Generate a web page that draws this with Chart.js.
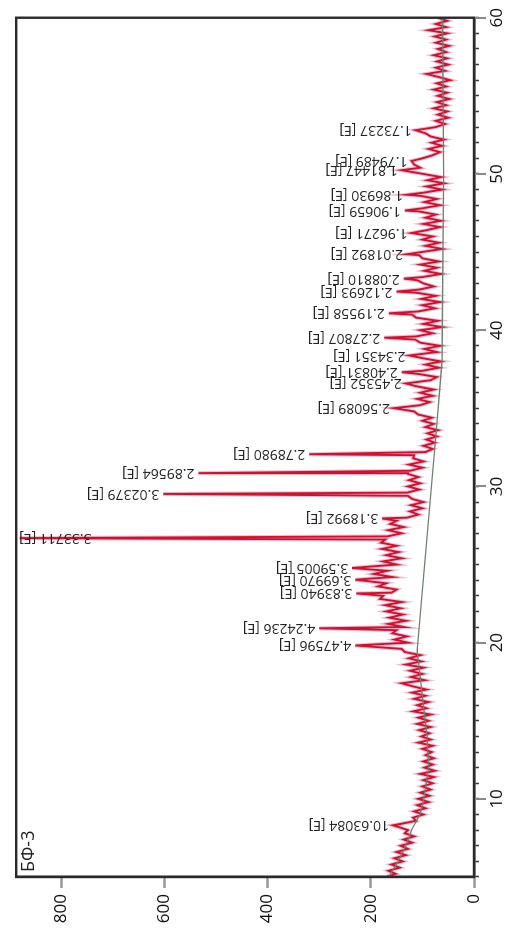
<!DOCTYPE html>
<html>
<head>
<meta charset="utf-8">
<script src="https://cdn.jsdelivr.net/npm/chart.js@4.4.1/dist/chart.umd.min.js"></script>
<style>
  html, body { margin: 0; padding: 0; background: #fff; overflow: hidden; width: 511px; height: 933px; }
  /* the diffractogram is laid out landscape and turned a quarter turn counter-clockwise */
  #wrap { position: absolute; left: 0; top: 0; width: 933px; height: 511px;
          transform-origin: 0 0; transform: translateY(933px) rotate(-90deg); }
</style>
</head>
<body>
<div id="wrap"><canvas id="xrd" width="933" height="511"></canvas></div>
<script>
// Sample name shown in the corner of the plot
const sampleName = 'БФ-3';

// Scan: start angle and step (2θ, degrees), counts per step
const scanStart = 5.0;
const scanStep = 0.2;
const scanCounts = [
  170,152,166,144,160,138,154,132,150,128,
  142,120,136,116,134,128,146,142,112,118,
   98,116, 94,110, 88,108, 86,104, 84,100,
   80, 98, 78,104, 76, 96, 80, 98, 78, 94,
   82,100, 80,108, 84,102, 86,106, 84,110,
   88,108, 84,118, 92,110, 88,116, 94,120,
   92,118,140, 96,122,100,124, 98,132,102,
  126,104,134,140,146,128,154,130,158,150,
  136,166,132,164,138,170,142,172,140,182,
  176,160,150,186,170,190,158,194,168,186,
  150,176,140,170,146,178,150,180,172,168,
  140,166,136,162,150,130,108,124,100,122,
   98,120,128,130,106,128,104,126,108,128,
  124,100,126, 98,118,116, 94, 80, 98, 76,
   92, 72, 90, 70, 94, 78,100, 82,108,116,
  120,104, 86,110, 80,104, 78,110,116, 84,
   72,108,100, 68, 94, 64, 98,102, 72, 96,
   66,104,114,112, 80,104, 62, 98, 70,112,
  120,108, 76,100, 66,102, 74,112,106, 78,
   98,110,100, 64, 96, 72,104, 68,100,106,
  102, 62, 94, 68,100, 80,104, 92, 66, 98,
   64, 94, 74,106,100, 66, 96, 72,104, 98,
   62, 92, 58, 90, 64, 98,110,104,116,106,
  100, 80, 66, 88, 62, 82, 58, 84, 94, 98,
   74, 56, 74, 50, 70, 52, 78, 54, 72, 48,
   70, 52, 78, 54, 72, 46, 68, 92, 56, 74,
   50, 72, 52, 78, 54, 70, 48, 74, 54, 76,
   52, 88, 54, 74, 52, 70
];

// Indexed reflections: position (2θ), peak counts, d-spacing label
const peakTheta  = [8.31, 19.82, 20.92, 23.15, 24.03, 24.78, 26.69, 27.95, 29.52, 30.85, 32.06, 35.01, 36.59,
                    37.31, 38.38, 39.52, 41.08, 42.47, 43.30, 44.86, 46.22, 47.66, 48.67, 50.24, 50.83, 52.80];
const peakCounts = [157, 230, 300, 228, 230, 236, 880, 178, 602, 534, 319, 155, 132,
                    140, 125, 174, 165, 150, 136, 130, 121, 134, 130, 140, 121, 113];
const peakLabels = ['10.63084 [E]', '4.47596 [E]', '4.24236 [E]', '3.83940 [E]', '3.69970 [E]', '3.59005 [E]',
                    '3.33711 [E]', '3.18992 [E]', '3.02379 [E]', '2.89564 [E]', '2.78980 [E]', '2.56089 [E]',
                    '2.45352 [E]', '2.40831 [E]', '2.34351 [E]', '2.27807 [E]', '2.19558 [E]', '2.12693 [E]',
                    '2.08810 [E]', '2.01892 [E]', '1.96271 [E]', '1.90659 [E]', '1.86930 [E]', '1.81447 [E]',
                    '1.79489 [E]', '1.73237 [E]'];

// Fitted background
const bgTheta  = [5, 6, 7, 8, 9, 10, 12, 14, 16, 18, 19.5, 34, 38, 50, 60];
const bgCounts = [165, 147, 132, 121, 105, 97, 88, 91, 98, 105, 110, 72, 62, 59, 61];

// Axis ranges and labelled ticks
const thetaMin = 5, thetaMax = 60, thetaMajor = 10;
const countMin = 0, countMax = 887, countStep = 200;

// Measured trace: scan steps plus the reflection maxima, in angle order
const trace = scanCounts
  .map((c, i) => ({ x: +(scanStart + i * scanStep).toFixed(2), y: c }))
  .filter(p => !peakTheta.some(t => Math.abs(t - p.x) < 0.05));
peakTheta.forEach((t, i) => trace.push({ x: t, y: peakCounts[i] }));
trace.sort((a, b) => a.x - b.x);

const background = bgTheta.map((t, i) => ({ x: t, y: bgCounts[i] }));

const FONT = '"Open Sans", "DejaVu Sans", sans-serif';

const decorations = {
  id: 'decorations',
  afterDatasetsDraw(chart) {
    const { ctx, chartArea: a, scales: { x, y } } = chart;
    ctx.save();
    // plot frame
    ctx.strokeStyle = '#2a2a2a';
    ctx.lineWidth = 2.4;
    ctx.strokeRect(a.left, a.top, a.right - a.left, a.bottom - a.top);

    // longer marks at labelled 2θ values
    ctx.strokeStyle = '#8a8a8a';
    ctx.lineWidth = 2;
    for (let v = thetaMajor; v <= thetaMax; v += thetaMajor) {
      const px = Math.round(x.getPixelForValue(v));
      ctx.beginPath();
      ctx.moveTo(px, a.bottom + 1);
      ctx.lineTo(px, a.bottom + 12);
      ctx.stroke();
    }

    // sample name
    ctx.fillStyle = '#222';
    ctx.font = '18px ' + FONT;
    ctx.textAlign = 'left';
    ctx.textBaseline = 'top';
    ctx.fillText(sampleName, a.left + 5, a.top + 4);

    // reflection labels, written upward from each maximum
    ctx.font = '14px ' + FONT;
    ctx.textBaseline = 'middle';
    peakTheta.forEach((t, i) => {
      const px = x.getPixelForValue(t);
      const w = ctx.measureText(peakLabels[i]).width;
      let py = y.getPixelForValue(peakCounts[i]) - 4;
      if (py - w < a.top + 3) py = a.top + 3 + w;
      ctx.save();
      ctx.translate(px, py);
      ctx.rotate(-Math.PI / 2);
      ctx.fillText(peakLabels[i], 0, 0);
      ctx.restore();
    });
    ctx.restore();
  }
};

new Chart(document.getElementById('xrd'), {
  type: 'line',
  data: {
    datasets: [
      { label: 'background', data: background, borderColor: '#6f806f', borderWidth: 1.3,
        pointRadius: 0, tension: 0, order: 0 },
      { label: 'counts', data: trace, borderColor: '#d2102e', borderWidth: 1.9,
        pointRadius: 0, tension: 0, order: 1 },
      { label: 'counts halo', data: trace, borderColor: 'rgba(200, 75, 125, 0.35)', borderWidth: 4,
        pointRadius: 0, tension: 0, order: 2 }
    ]
  },
  options: {
    responsive: false,
    animation: false,
    devicePixelRatio: 1,
    layout: { padding: { left: 10, right: 10, top: 12, bottom: 0 } },
    plugins: { legend: { display: false }, tooltip: { enabled: false } },
    scales: {
      x: {
        type: 'linear', min: thetaMin, max: thetaMax,
        afterFit(s) { s.height = 37; },
        ticks: {
          stepSize: 1, includeBounds: false, autoSkip: false, maxRotation: 0, padding: 8,
          color: '#111', font: { family: FONT, size: 17 },
          callback: v => (v % thetaMajor === 0 ? String(v) : '')
        },
        grid: { drawOnChartArea: false, drawTicks: true, tickLength: 5, tickWidth: 1.5,
                tickColor: '#3a3a3a' },
        border: { display: true, color: '#2a2a2a', width: 2.4 }
      },
      y: {
        type: 'linear', min: countMin, max: countMax,
        afterFit(s) { s.width = 46; },
        ticks: {
          stepSize: countStep, includeBounds: false, padding: 6,
          color: '#111', font: { family: FONT, size: 17 }
        },
        grid: { drawOnChartArea: false, drawTicks: true, tickLength: 11, tickWidth: 2.5,
                tickColor: '#9a9a9a' },
        border: { display: true, color: '#2a2a2a', width: 2.4 }
      }
    }
  },
  plugins: [decorations]
});
</script>
</body>
</html>
